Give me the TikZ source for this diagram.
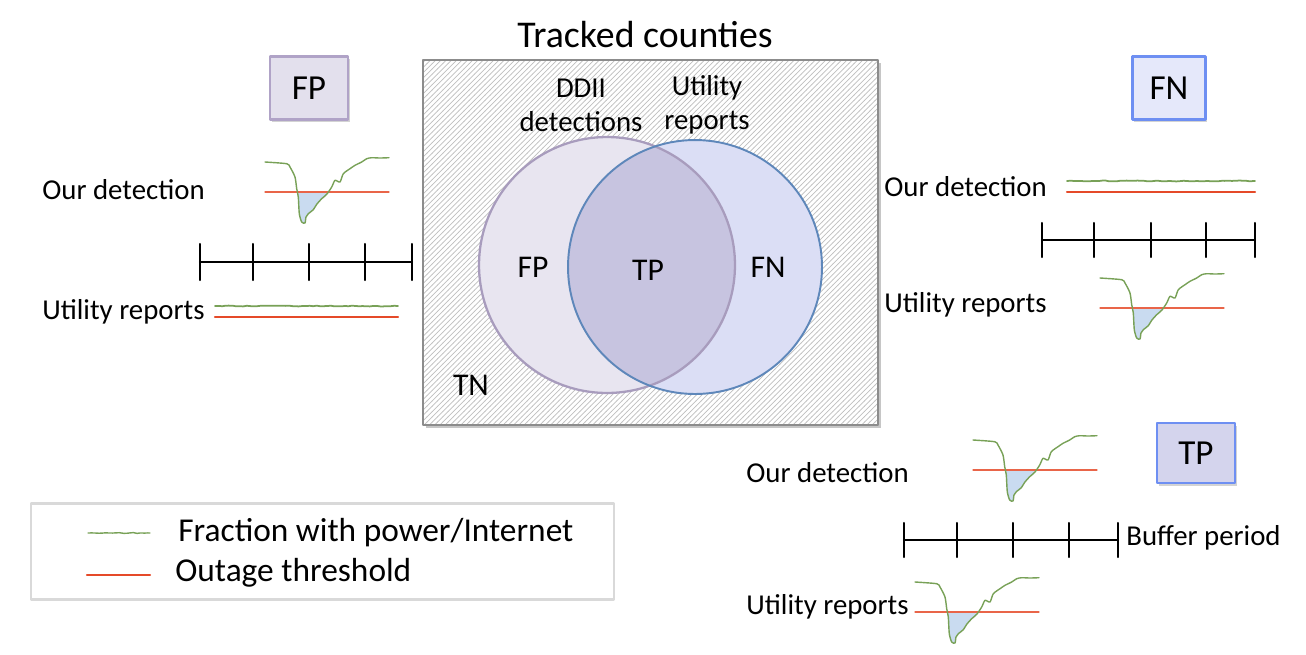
\documentclass[tikz,border=0pt]{standalone}
\usepackage{fontspec}
\setmainfont{Carlito}
\usepackage{tikz}
\usetikzlibrary{arrows,patterns,shadows,decorations.pathmorphing}
\definecolor{wwaaww}{rgb}{0.47,0.63,0.34}
\definecolor{ffwwqq}{rgb}{0.90,0.29,0.16}
\definecolor{ccddff}{rgb}{0.79,0.86,0.94}
\definecolor{eeeeff}{rgb}{0.91,0.90,0.94}
\definecolor{aaaacc}{rgb}{0.66,0.61,0.74}
\definecolor{ddddff}{rgb}{0.86,0.87,0.96}
\definecolor{ttaacc}{rgb}{0.37,0.53,0.73}
\definecolor{cccced}{rgb}{0.78,0.77,0.88}
\definecolor{fpfill}{rgb}{0.89,0.88,0.93}
\definecolor{fpedge}{rgb}{0.69,0.64,0.78}
\definecolor{fnfill}{rgb}{0.90,0.91,0.98}
\definecolor{tpfill}{rgb}{0.83,0.83,0.93}
\definecolor{qqttff}{rgb}{0.43,0.56,0.95}
\definecolor{boxgray}{rgb}{0.55,0.55,0.55}
\definecolor{leggray}{rgb}{0.85,0.85,0.85}

\begin{document}
\begin{tikzpicture}[line cap=round,line join=round,x=0.02cm,y=-0.02cm,
  lbl/.style={anchor=west,inner sep=0pt,font=\fontsize{16.4}{19.3}\selectfont},
  vlbl/.style={inner sep=0pt,font=\fontsize{18}{21}\selectfont},
  tagbox/.style={draw,line width=1.2pt,inner sep=0pt,minimum height=1.26cm,
    font=\fontsize{20}{24}\selectfont,
    drop shadow={opacity=0.35,shadow xshift=1pt,shadow yshift=-1.5pt}},
  jitter/.style={decorate,decoration={random steps,segment length=2pt,amplitude=0.25pt}}]
\useasboundingbox (0,0) rectangle (1306,654);
\node[font=\fontsize{21.5}{25}\selectfont] (title) at (645,35) {Tracked counties};
% tracked counties box
\fill[color=gray!45] (426,63) rectangle (881,428);
\fill[color=white] (423,60) rectangle (878,425);
\fill[pattern=north east lines,pattern color=gray!50] (423,60) rectangle (878,425);
\draw[color=boxgray,line width=0.9pt] (423,60) rectangle (878,425);
% venn
\fill[color=eeeeff] (607,265) circle (2.56cm);
\fill[color=ddddff] (695,267) circle (2.54cm);
\begin{scope}
\clip (607,265) circle (2.56cm);
\fill[color=cccced] (695,267) circle (2.54cm);
\end{scope}
\draw[color=aaaacc,line width=1.3pt] (607,265) circle (2.56cm);
\draw[color=ttaacc,line width=1.1pt] (695,267) circle (2.54cm);
\node[lbl,anchor=center,align=center] (ddii) at (581,105) {DDII\\detections};
\node[lbl,anchor=center,align=center] (utility) at (707,105) {Utility\\reports};
\node[vlbl] (fpv) at (533,267) {FP};
\node[vlbl] (tpv) at (648,270) {TP};
\node[vlbl] (fnv) at (768,267) {FN};
\node[vlbl] (tnv) at (471,385) {TN};
% tags
\node[tagbox,fill=fpfill,draw=fpedge,minimum width=1.56cm] (fptag) at (309,88) {FP};
\node[tagbox,fill=fnfill,draw=qqttff,minimum width=1.46cm] (fntag) at (1169,88) {FN};
\node[tagbox,fill=tpfill,draw=qqttff,minimum width=1.56cm,minimum height=1.2cm] (tptag) at (1196,453) {TP};
% row labels
\node[lbl] (fpour) at (42,190) {Our detection};
\node[lbl] (fputil) at (42,312) {Utility reports};
\node[lbl] (fnour) at (884,187) {Our detection};
\node[lbl] (fnutil) at (884,305) {Utility reports};
\node[lbl] (tpour) at (746,473) {Our detection};
\node[lbl] (tputil) at (746,607) {Utility reports};
\node[lbl] (buffer) at (1126,538) {Buffer period};
% time lines
\draw[line width=1.2pt] (200,262) -- (412,262);
\foreach \x in {200,253,309,365,412} \draw[line width=1.2pt] (\x,244) -- (\x,280);
\draw[line width=1.2pt] (1042,240) -- (1255,240);
\foreach \x in {1042,1094,1151,1206,1255} \draw[line width=1.2pt] (\x,223) -- (\x,257);
\draw[line width=1.2pt] (904,540) -- (1118,540);
\foreach \x in {904,957,1013,1069,1118} \draw[line width=1.2pt] (\x,523) -- (\x,557);
% flat signals
\draw[color=wwaaww,line width=1pt,jitter] (215,306) -- (398,306);
\draw[color=ffwwqq,line width=1.2pt] (215,317) -- (398,317);
\draw[color=wwaaww,line width=1pt,jitter] (1067,181) -- (1255,181);
\draw[color=ffwwqq,line width=1.2pt] (1067,192) -- (1255,192);
% outage dips
\foreach \px/\py in {265/192,1100/308,973/470,915/612}{
\begin{scope}[shift={(\px,\py)}]
\begin{scope}
\clip (0,0) rectangle (124,40);
\fill[color=ccddff] plot[smooth,tension=0.4] coordinates {(0,-30) (21.7,-28.3) (25,-25) (30,-15) (31.7,-3.3) (33.3,5) (34.3,21.7) (36.7,30) (40,31) (41,25) (43.3,21.7) (48.3,17.7) (51.7,12.3) (56.7,6.7) (61.7,2.3) (66.7,-5) (70,-11.7) (75,-10) (78.3,-18.3) (85,-23.3) (90,-26.7) (96.7,-30) (101.7,-33.3) (106.7,-34.3) (115,-34) (124,-34.3)} -- cycle;
\end{scope}
\draw[color=ffwwqq!85,line width=0.7pt] (0,0) -- (124,0);
\draw[color=wwaaww,line width=0.8pt] plot[smooth,tension=0.4] coordinates {(0,-30) (21.7,-28.3) (25,-25) (30,-15) (31.7,-3.3) (33.3,5) (34.3,21.7) (36.7,30) (40,31) (41,25) (43.3,21.7) (48.3,17.7) (51.7,12.3) (56.7,6.7) (61.7,2.3) (66.7,-5) (70,-11.7) (75,-10) (78.3,-18.3) (85,-23.3) (90,-26.7) (96.7,-30) (101.7,-33.3) (106.7,-34.3) (115,-34) (124,-34.3)};
\end{scope}
}
% legend
\draw[color=leggray,line width=1.7pt] (31,503) rectangle (614,599);
\draw[color=wwaaww,line width=0.8pt,jitter] (88,533) -- (150,533);
\draw[color=ffwwqq,line width=1.2pt] (87,575) -- (150,575);
\node[lbl,font=\fontsize{19}{23}\selectfont] (legfrac) at (178,533) {Fraction with power/Internet};
\node[lbl,font=\fontsize{19}{23}\selectfont] (legthr) at (175,573) {Outage threshold};
\end{tikzpicture}
\end{document}
